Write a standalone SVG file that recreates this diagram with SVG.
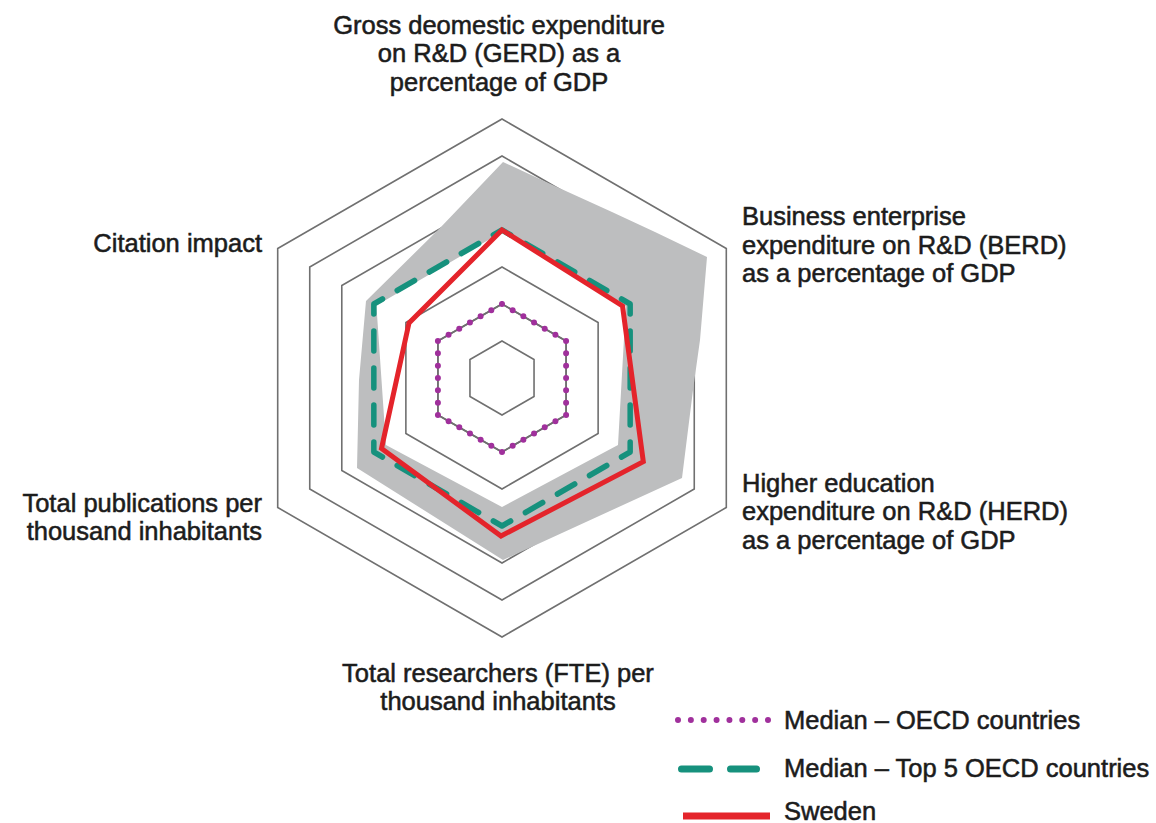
<svg xmlns="http://www.w3.org/2000/svg" width="1156" height="823" viewBox="0 0 1156 823">
<style>
.ring{fill:none;stroke:#707070;stroke-width:1.6;stroke-linejoin:miter}
.lbl{font-family:"Liberation Sans",Arial,sans-serif;font-size:25.5px;fill:#1c1c1c;stroke:#1c1c1c;stroke-width:0.55}
.purple{fill:none;stroke:#a0309c;stroke-width:6;stroke-linecap:round}
.green{fill:none;stroke:#16917d;stroke-width:5.5;stroke-linecap:round;stroke-linejoin:round}
.red{fill:none;stroke:#e4242b;stroke-width:5;stroke-linejoin:miter}
</style>
<rect width="1156" height="823" fill="#ffffff"/>
<g id="grid">
<polygon class="ring" points="502,341 534.04,359.5 534.04,396.5 502,415 469.96,396.5 469.96,359.5"/>
<polygon class="ring" points="502,304 566.09,341 566.09,415 502,452 437.91,415 437.91,341"/>
<polygon class="ring" points="502,267 598.13,322.5 598.13,433.5 502,489 405.87,433.5 405.87,322.5"/>
<polygon class="ring" points="502,230 630.17,304 630.17,452 502,526 373.83,452 373.83,304"/>
<polygon class="ring" points="502,193 662.21,285.5 662.21,470.5 502,563 341.79,470.5 341.79,285.5"/>
<polygon class="ring" points="502,156 694.26,267 694.26,489 502,600 309.74,489 309.74,267"/>
<polygon class="ring" points="502,119 726.3,248.5 726.3,507.5 502,637 277.7,507.5 277.7,248.5"/>
</g>
<g id="range-band">
<path fill="#bdbebf" fill-rule="evenodd" d="M503,162 L557,187 L612,212 L655,232 L707,257 L700,340 L693,390 L682,478 L503,560 L357,468 L359,380 L366,301 L440,228 Z M502,232 L376.4,305.5 L385.95,445 L502,507 L618,445 L625.8,306.5 Z"/>
</g>
<g id="ring-2-line">
<polygon class="ring" points="502,304 566.09,341 566.09,415 502,452 437.91,415 437.91,341"/>
</g>
<g id="connectors">
<path id="median-oecd" class="purple" stroke-dasharray="0 12.333" d="M502,304 L566.09,341 L566.09,415 L502,452 L437.91,415 L437.91,341 Z"/>
<path id="median-top5" class="green" stroke-dasharray="20 17" stroke-dashoffset="10" d="M502,230 L630.17,304 L630.17,452 L502,526 L373.83,452 L373.83,304 Z"/>
<path id="sweden" class="red" d="M502,230 L622.5,306 L643.3,461.7 L501,536 L381.5,448.5 L409,323 Z"/>
</g>
<g id="label-gerd">
<text class="lbl" x="499" y="33.5" text-anchor="middle">Gross deomestic expenditure</text>
<text class="lbl" x="499" y="62" text-anchor="middle">on R&amp;D (GERD) as a</text>
<text class="lbl" x="499" y="90.5" text-anchor="middle">percentage of GDP</text>
</g>
<g id="label-berd">
<text class="lbl" x="742" y="225">Business enterprise</text>
<text class="lbl" x="742" y="253.5">expenditure on R&amp;D (BERD)</text>
<text class="lbl" x="742" y="282">as a percentage of GDP</text>
</g>
<g id="label-herd">
<text class="lbl" x="742" y="491.5">Higher education</text>
<text class="lbl" x="742" y="520">expenditure on R&amp;D (HERD)</text>
<text class="lbl" x="742" y="548.5">as a percentage of GDP</text>
</g>
<g id="label-researchers">
<text class="lbl" x="498" y="682" text-anchor="middle">Total researchers (FTE) per</text>
<text class="lbl" x="498" y="709.5" text-anchor="middle">thousand inhabitants</text>
</g>
<g id="label-publications">
<text class="lbl" x="262" y="512" text-anchor="end">Total publications per</text>
<text class="lbl" x="262" y="540" text-anchor="end">thousand inhabitants</text>
</g>
<g id="label-citation">
<text class="lbl" x="262" y="252" text-anchor="end">Citation impact</text>
</g>
<g id="legend">
<path class="purple" stroke-dasharray="0 12.857" d="M678,720 H768"/>
<text class="lbl" x="784" y="729">Median – OECD countries</text>
<path fill="none" stroke="#16917d" stroke-width="7" stroke-linecap="round" d="M681.5,769 H709.5 M730.5,769 H756.5"/>
<text class="lbl" x="784" y="777">Median – Top 5 OECD countries</text>
<path fill="none" stroke="#e4242b" stroke-width="7" d="M683,816 H770"/>
<text class="lbl" x="784" y="819.5">Sweden</text>
</g>
</svg>
